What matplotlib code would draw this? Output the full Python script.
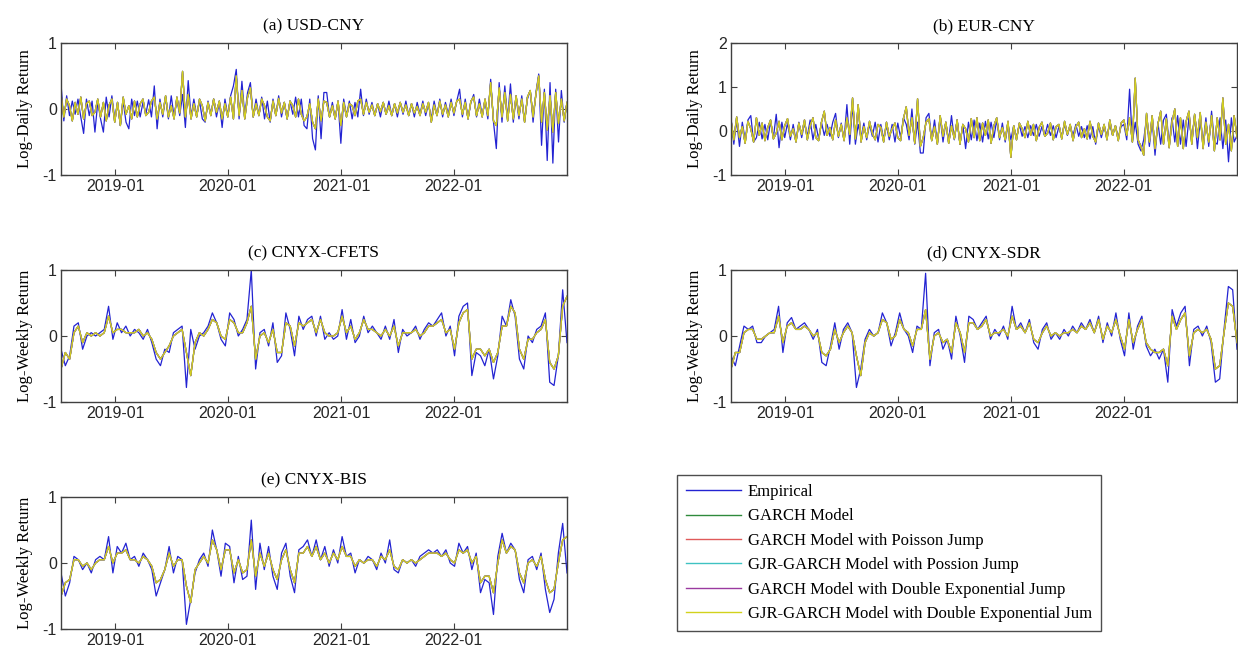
import numpy as np
import pandas as pd
import matplotlib
matplotlib.use('Agg')
import matplotlib.pyplot as plt
import matplotlib.dates as mdates
from matplotlib.lines import Line2D

# tick labels in an Arial-like face, text in a Times-like face
plt.rcParams['font.family'] = ['Liberation Sans', 'DejaVu Sans']
plt.rcParams['axes.unicode_minus'] = False
serif = 'Liberation Serif'

W, H = 1238, 653

# time span shared by all panels
start = pd.Timestamp('2018-07-10')
end = pd.Timestamp('2023-01-02')
tick_dates = pd.to_datetime(['2019-01-01', '2020-01-01', '2021-01-01', '2022-01-01'])

# series values, in units of 0.01
emp_a = [38,-18,20,-10,12,-8,15,-12,-37,15,-10,12,-35,10,-15,-35,18,-12,20,-15,
         10,-25,12,-20,-30,15,-10,12,-12,10,-8,14,-12,35,-30,15,-12,18,-15,20,
         -12,15,-10,22,-28,43,-12,15,-10,12,-15,-20,12,-8,15,-12,10,-28,15,-10,
         20,35,60,-15,42,-10,25,40,-12,15,-10,18,-15,12,-20,15,-10,20,-12,10,
         -15,12,-8,18,-12,15,-25,-30,15,-45,-62,20,-45,25,25,-12,10,-15,12,-52,
         15,-10,12,-15,10,-12,30,-10,15,-8,10,-10,8,-12,10,-8,12,-10,8,-12,
         10,-8,12,-10,8,-12,10,-8,12,-10,8,-15,12,-10,15,-12,10,-8,15,-10,
         12,30,-12,15,-15,10,22,-12,15,-10,12,-15,45,-20,-60,40,-20,35,-15,38,
         -20,18,-15,20,-18,15,28,-20,25,53,-55,30,-78,40,-82,30,-50,28,-20,10]
fit_a = [22,-12,15,5,-18,10,-8,18,-15,8,12,-10,-5,15,-12,10,-18,6,15,-20,
         10,-25,18,-8,5,-15,12,-12,8,15,-10,-5,12,18,-15,10,-8,20,-12,5,
         -15,18,-6,57,-12,22,-15,8,-12,15,5,-18,10,-10,15,-5,12,-15,8,-12,
         18,-15,50,-10,28,-15,18,32,-12,8,-10,15,5,-12,-18,12,-10,16,-6,10,
         -15,12,5,-12,15,-8,-18,-12,8,-20,-30,15,-18,12,10,-12,5,-15,12,-25,
         10,-12,8,5,-10,12,15,-8,10,-5,6,-10,8,-4,10,-8,5,-10,8,-6,
         10,-5,6,-10,8,-6,4,-10,8,-5,10,-20,6,-10,12,-8,6,-12,10,-6,
         12,15,-8,10,-15,12,18,-10,8,-12,15,-10,40,-18,-25,32,-12,25,-18,22,
         -15,20,-10,15,-20,18,28,-12,22,50,-20,25,-32,20,-35,25,-22,15,-18,10]

emp_b = [30,-30,25,-35,20,-20,25,35,-25,-15,20,-18,15,-20,22,-15,38,-38,20,-15,
         18,-20,15,-22,20,-15,18,-12,25,-20,15,-18,20,-10,15,-12,20,40,-15,18,
         -20,60,-30,60,-30,15,-15,18,-20,15,-12,20,-25,15,-18,12,-20,15,-25,18,
         -15,30,15,-20,50,-30,20,-50,-50,30,40,-20,25,-28,30,-25,20,-22,35,-20,
         25,-30,15,-40,20,-20,25,-22,18,-25,22,-18,20,-15,25,-20,18,-25,15,-20,
         12,-15,15,-12,10,-15,12,-10,15,-12,10,-12,15,-10,12,-15,10,-12,15,-10,
         12,-10,15,-12,10,-15,12,-18,10,-30,12,-15,10,-12,15,-10,12,-15,10,15,
         -20,95,-25,20,-30,-45,-20,30,-35,25,-55,20,-30,25,38,-30,30,-25,35,-30,
         25,-35,30,-20,35,-40,25,-30,30,-35,45,-25,-30,30,-40,25,-70,30,-25,-10]
fit_b = [25,-20,32,-15,10,-28,22,5,-25,30,-10,18,-22,8,25,-18,-5,22,-20,12,
         28,-12,5,-25,18,-8,25,-20,12,30,-15,-22,20,45,-10,8,-20,25,-12,15,
         -22,30,-8,75,-18,60,-25,10,-15,22,-5,-20,15,8,-25,20,-12,5,18,-15,
         -22,28,55,-10,30,-28,73,-35,-15,20,28,-22,10,-30,35,-12,20,-28,12,-18,
         25,-30,15,5,-25,28,-15,30,-22,18,-10,25,-28,12,30,-15,8,-20,22,-60,
         12,-20,18,5,-15,22,-10,15,-22,8,20,-12,-5,18,-20,10,15,-18,22,-8,
         15,-22,10,20,-15,5,-18,22,-12,-25,18,-8,15,-20,25,-10,12,-22,18,25,
         -10,30,-25,120,-20,-35,-55,40,-25,35,-40,15,45,-30,28,-38,20,50,-35,30,
         -40,22,45,-30,38,-15,42,-40,20,-25,35,-45,30,-20,75,-30,15,-45,35,-15]

emp_c = [-20,-45,-30,15,20,-20,0,5,0,5,10,45,-5,20,5,15,0,10,5,-5,
         10,-10,-35,-45,-20,-25,5,10,15,-78,10,-20,0,5,15,35,20,-5,-15,35,
         25,0,10,25,100,-50,5,10,-15,20,-40,-30,35,10,-30,30,10,25,30,0,
         30,-5,5,-5,0,40,-5,25,-10,0,30,5,15,5,-5,15,-5,25,-25,10,
         0,5,15,-5,10,20,15,25,35,0,15,-30,30,45,50,-60,-25,-30,-45,-20,
         -65,-30,30,15,55,30,-35,-50,0,-10,10,15,35,-70,-75,-30,70,-10]
fit_c = [-50,-25,-35,5,15,-10,5,0,5,0,5,30,5,10,10,5,5,5,10,0,
         5,-5,-25,-35,-25,-15,0,5,10,-25,-60,-10,5,0,10,25,20,0,-5,25,
         20,5,5,20,45,-35,0,5,-10,10,-25,-25,20,15,-15,20,15,20,25,5,
         25,5,0,0,5,30,5,15,-5,5,25,10,10,5,0,10,0,15,-15,5,
         5,5,10,0,5,15,15,20,25,5,10,-20,20,35,40,-35,-20,-20,-30,-20,
         -40,-25,15,15,45,35,-20,-35,-5,-5,5,10,25,-40,-50,-30,45,60]

emp_d = [-30,-45,-15,15,10,15,-10,-10,0,5,10,45,-25,20,28,10,15,20,10,-5,
         10,-40,-45,-15,20,-20,10,20,5,-78,-50,-5,10,0,5,35,20,-15,5,35,
         10,0,-25,15,10,95,-45,5,10,-20,-5,-35,30,0,-40,30,25,10,20,30,
         -5,10,0,15,-5,45,10,20,5,25,-10,-20,10,20,-5,5,-5,10,0,15,
         5,20,10,25,5,30,-10,20,0,35,-5,-30,35,-20,15,30,-15,-30,-20,-35,
         -20,-70,40,15,35,45,-45,10,15,0,15,-10,-70,-65,10,75,70,-20]
fit_d = [-50,-25,-25,5,10,10,-5,-5,0,5,5,30,-10,15,20,10,10,15,10,0,
         5,-25,-30,-20,10,-10,5,15,5,-30,-60,-10,5,0,5,25,20,-5,0,25,
         10,5,-15,10,10,40,-35,0,5,-10,-5,-25,20,5,-25,20,20,10,15,25,
         0,5,5,10,0,30,10,15,5,20,-5,-10,5,15,0,5,0,5,5,10,
         5,15,10,20,5,25,-5,15,5,25,0,-20,25,-10,10,25,-10,-20,-25,-25,
         -20,-45,30,10,25,35,-30,5,10,5,10,-5,-50,-45,5,50,45,-10]

emp_e = [-15,-50,-30,10,5,-10,0,-15,5,10,5,40,-15,25,15,30,5,10,-5,15,
         5,-10,-50,-30,-10,25,-15,10,5,-93,-55,-15,5,15,-5,50,20,-20,30,25,
         -30,10,-25,-20,65,-40,30,-10,25,-20,-40,15,30,-20,-45,20,25,35,10,35,
         5,25,-5,20,0,40,10,15,-15,5,0,10,5,-10,15,0,35,-10,-15,5,
         0,5,-5,10,15,20,15,20,10,20,0,-5,30,15,25,-10,15,-45,-25,-30,
         -78,10,45,15,30,20,-25,-45,5,10,-10,15,-40,-75,-55,15,60,-15]
fit_e = [-50,-30,-25,5,5,-5,0,-10,0,5,5,25,0,15,15,20,5,5,0,10,
         5,-5,-30,-25,-10,15,-5,5,5,-35,-60,-10,0,10,0,35,20,-10,20,20,
         -15,5,-15,-10,35,-20,15,-5,15,-10,-25,5,20,-10,-30,15,15,25,10,25,
         5,15,0,15,5,25,10,10,-5,5,0,5,5,-5,10,5,20,-5,-10,5,
         0,5,0,5,10,15,15,15,10,15,5,0,20,15,20,0,10,-30,-20,-20,
         -45,0,35,15,25,20,-15,-30,0,5,-5,10,-25,-45,-40,0,35,40]

titles = ['(a) USD-CNY', '(b) EUR-CNY', '(c) CNYX-CFETS', '(d) CNYX-SDR', '(e) CNYX-BIS']
ylabels = ['Log-Daily Return', 'Log-Daily Return', 'Log-Weekly Return',
           'Log-Weekly Return', 'Log-Weekly Return']
emp_all = [emp_a, emp_b, emp_c, emp_d, emp_e]
fit_all = [fit_a, fit_b, fit_c, fit_d, fit_e]
ylims = [(-1, 1), (-1, 2), (-1, 1), (-1, 1), (-1, 1)]

names = ['Empirical', 'GARCH Model', 'GARCH Model with Poisson Jump',
         'GJR-GARCH Model with Possion Jump', 'GARCH Model with Double Exponential Jump',
         'GJR-GARCH Model with Double Exponential Jum']
colors = ['#2323d2', '#2f8a3c', '#e05a5a', '#3fc2c2', '#9a3aa0', '#d2d21c']

# axes boxes in pixels: left, top, right, bottom
boxes = [(61, 43, 567, 175), (731, 43, 1237, 175),
         (61, 270, 567, 402), (731, 270, 1237, 402),
         (61, 497, 567, 629)]

fig = plt.figure(figsize=(W / 100, H / 100), dpi=100)

for k in range(5):
    x0, y0, x1, y1 = boxes[k]
    ax = fig.add_axes([x0 / W, 1 - y1 / H, (x1 - x0) / W, (y1 - y0) / H])

    emp = np.array(emp_all[k]) / 100.0
    fit = np.array(fit_all[k]) / 100.0
    d_emp = pd.date_range(start, end, periods=len(emp))
    d_fit = pd.date_range(start, end, periods=len(fit))

    ax.plot(d_emp, emp, color=colors[0], lw=0.9)
    # model fits, the last one drawn on top
    for c in colors[1:]:
        ax.plot(d_fit, fit, color=c, lw=0.9)

    ax.set_xlim(start, end)
    ax.set_ylim(*ylims[k])
    ax.set_yticks(np.arange(ylims[k][0], ylims[k][1] + 1))
    ax.set_xticks(tick_dates)
    ax.xaxis.set_major_formatter(mdates.DateFormatter('%Y-%m'))
    ax.tick_params(direction='in', top=True, right=True, length=4, width=0.8,
                   labelsize=11.5, color='#404040', labelcolor='#262626', pad=3)
    for s in ax.spines.values():
        s.set_color('#404040')
        s.set_linewidth(1.0)

    ax.set_title(titles[k], family=serif, fontsize=12.5, pad=9)
    ax.set_ylabel(ylabels[k], family=serif, fontsize=12, labelpad=7)

handles = [Line2D([], [], color=c, lw=1.0) for c in colors]
leg = fig.legend(handles, names, loc='upper left', bbox_to_anchor=(677 / W, 1 - 475 / H),
                 borderaxespad=0, frameon=True, fancybox=False, edgecolor='#202020',
                 prop={'family': serif, 'size': 12}, handlelength=3.3,
                 labelspacing=0.5, borderpad=0.55, handletextpad=0.4)
leg.get_frame().set_linewidth(1.0)

fig.savefig('out.png', dpi=100)
